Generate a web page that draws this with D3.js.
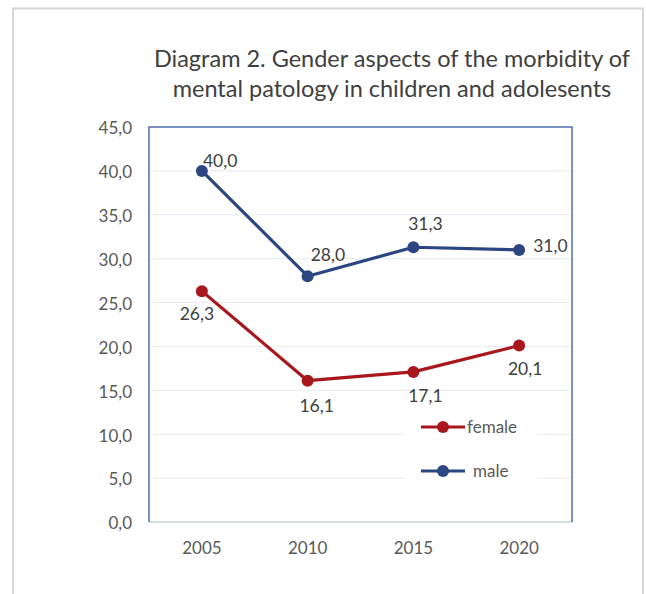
<!DOCTYPE html>
<html><head><meta charset="utf-8">
<script src="https://cdn.jsdelivr.net/npm/d3@7"></script>
<style>html,body{margin:0;padding:0;background:#fff;}svg{display:block;}</style>
</head><body>
<svg id="c" width="646" height="594"></svg>
<script>
const years = ["2005","2010","2015","2020"];
const male = [40.0, 28.0, 31.3, 31.0];
const female = [26.3, 16.1, 17.1, 20.1];
const yTicks = [0,5,10,15,20,25,30,35,40,45];
const titleLines = ["Diagram 2. Gender aspects of the morbidity of","mental patology in children and adolesents"];
const seriesNames = ["female","male"];

const svg = d3.select("#c");
const font = "Lato, 'Open Sans', sans-serif";
const txt = "#595959";
const maleC = "#2B4680", femC = "#A8171C", frameC = "#4F6FA8";

// outer frame
svg.append("rect").attr("x",13).attr("y",8.5).attr("width",630).attr("height",600)
  .attr("fill","#fff").attr("stroke","#d6d6d6").attr("stroke-width",2);

const L=149, R=572, T=127, B=522;
const x = d3.scaleBand().domain(years).range([L,R]);
const y = d3.scaleLinear().domain([0,45]).range([B,T]);
const fmt = v => d3.format(".1f")(v).replace(".",",");
const cx = (d,i) => x(years[i]) + x.bandwidth()/2;

// gridlines
svg.append("g").selectAll("line").data(yTicks.filter(d=>d>0&&d<45)).join("line")
  .attr("x1",L).attr("x2",R).attr("y1",d=>y(d)).attr("y2",d=>y(d))
  .attr("stroke","#e6ebf3").attr("stroke-width",1);

// bottom axis line
svg.append("line").attr("x1",L).attr("x2",R).attr("y1",B).attr("y2",B).attr("stroke","#d9dde6").attr("stroke-width",2);
// frame left/top/right
svg.append("path").attr("d",`M${L},${B}V${T}H${R}V${B}`).attr("fill","none").attr("stroke",frameC).attr("stroke-width",1.5);

// y labels
const yAxis = d3.axisLeft(y).tickValues(yTicks).tickFormat(fmt).tickSize(0).tickPadding(17);
const ya = svg.append("g").attr("transform",`translate(${L},0)`).call(yAxis);
ya.select(".domain").remove();
ya.selectAll("text").attr("font-family",font).attr("font-size",17).attr("fill",txt).attr("dy","0.4em");

// x labels
const xAxis = d3.axisBottom(x).tickSize(0).tickPadding(20);
const xa = svg.append("g").attr("transform",`translate(0,${B})`).call(xAxis);
xa.select(".domain").remove();
xa.selectAll("text").attr("font-family",font).attr("font-size",17).attr("fill",txt);

// title
const tt = svg.append("text").attr("font-family",font).attr("font-size",23.5).attr("fill","#404040").attr("text-anchor","middle");
tt.selectAll("tspan").data(titleLines).join("tspan").attr("x",392).attr("y",(d,i)=>67+i*30).text(d=>d);

const line = d3.line().x(cx).y(d=>y(d));
function series(vals,color,offs){
  svg.append("path").datum(vals).attr("d",line).attr("fill","none").attr("stroke",color).attr("stroke-width",3.2).attr("stroke-linejoin","round");
  svg.append("g").selectAll("circle").data(vals).join("circle")
    .attr("cx",cx).attr("cy",d=>y(d)).attr("r",6).attr("fill",color);
  svg.append("g").selectAll("text").data(vals).join("text")
    .attr("x",(d,i)=>cx(d,i)+offs[i][0]).attr("y",(d,i)=>y(d)+offs[i][1])
    .attr("text-anchor",(d,i)=>offs[i][2]).attr("font-family",font).attr("font-size",17.5).attr("fill","#404040")
    .text(fmt);
}
// legend background
svg.append("rect").attr("x",405).attr("y",410).attr("width",132).attr("height",78).attr("fill","#fff");

series(male,maleC,[[1,-4,"start"],[3,-15,"start"],[12,-17,"middle"],[14,2,"start"]]);
series(female,femC,[[-5,29,"middle"],[9,31,"middle"],[12,30,"middle"],[6,29,"middle"]]);

// legend
const lg = svg.append("g");
[[femC,427,"female",467],[maleC,471,"male",473]].forEach(([c,yy,n,tx])=>{
  lg.append("line").attr("x1",421).attr("x2",465).attr("y1",yy).attr("y2",yy).attr("stroke",c).attr("stroke-width",3.2);
  lg.append("circle").attr("cx",443).attr("cy",yy).attr("r",6).attr("fill",c);
  lg.append("text").attr("x",tx).attr("y",yy+6).attr("font-family",font).attr("font-size",17).attr("fill",txt).text(n);
});
</script>
</body></html>
